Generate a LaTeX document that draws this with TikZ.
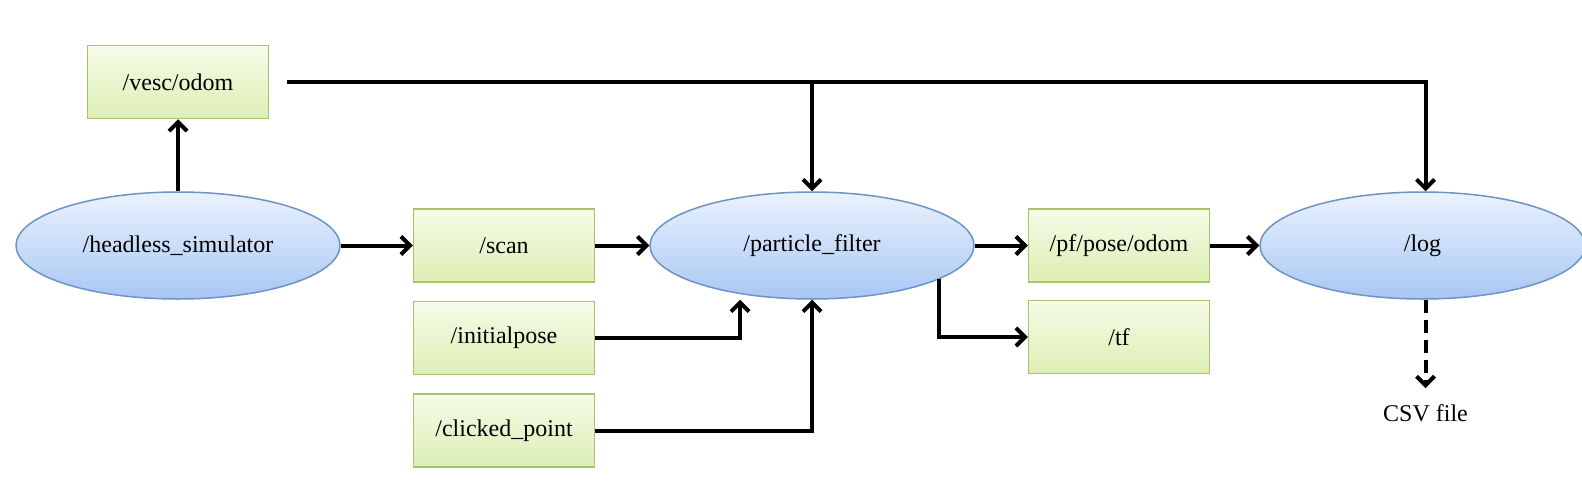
\documentclass[tikz,border=0pt]{standalone}
\usepackage{fontspec}
\setmainfont{Liberation Serif}
\usepackage{xcolor}
\usepackage{tikz}
\usetikzlibrary{arrows.meta,shapes.geometric,positioning,calc}

\definecolor{nodetop}{HTML}{EBF2FD}
\definecolor{nodebot}{HTML}{A8C7F4}
\definecolor{nodeline}{HTML}{6D93C6}
\definecolor{topictop}{HTML}{F6FBE8}
\definecolor{topicbot}{HTML}{DCEFB3}
\definecolor{topicline}{HTML}{A8C46A}

\tikzset{
  rosnode/.style={ellipse,draw=nodeline,line width=0.75pt,top color=nodetop,bottom color=nodebot,minimum width=162pt,minimum height=53.5pt,inner sep=0pt},
  topic/.style={rectangle,draw=topicline,line width=0.75pt,top color=topictop,bottom color=topicbot,minimum width=90.5pt,minimum height=36.5pt,inner sep=0pt},
  wire/.style={->,line width=2pt},
}

\begin{document}
\begin{tikzpicture}[font=\fontsize{12}{14}\selectfont,>={Straight Barb[length=4.5pt,width=9pt]}]
\useasboundingbox (0,0) rectangle (791pt,-249pt);
% Nodes
\node[rosnode] (sim) at (89pt,-122.75pt) {/headless\_simulator};
\node[topic,above=36pt of sim] (odom) {/vesc/odom};
\node[topic,right=36pt of sim] (scan) {/scan};
\node[topic,below=9pt of scan] (init) {/initialpose};
\node[topic,below=9pt of init] (click) {/clicked\_point};
\node[rosnode,right=27pt of scan] (pf) {/particle\_filter};
\node[topic,right=26.5pt of pf] (pose) {/pf/pose/odom};
\node[topic,below=8.5pt of pose] (tf) {/tf};
\node[rosnode,right=24.5pt of pose,minimum width=162.5pt] (log) {/log};
\node (csv) at ([xshift=1.5pt,yshift=-56.5pt]log.south) {CSV file};

% Arcs
\draw[wire] (sim) -- (odom);
\draw[wire] ([xshift=9pt]odom.east) -| ([xshift=1.5pt]log.north);
\draw[wire] (pf.north |- odom.east) -- (pf.north);
\draw[wire] (sim) -- (scan);
\draw[wire] (scan) -- (pf);
\draw[wire] (init.east) -| ([xshift=-36pt]pf.south);
\draw[wire] (click.east) -| (pf.south);
\draw[wire] (pf) -- (pose);
\draw[wire] (pf.345) |- (tf.west);
\draw[wire] (pose) -- (log);
\draw[wire,dash pattern=on 6.5pt off 3.5pt,shorten >=4.5pt] ([xshift=1.5pt]log.south) -- (csv.north);
\end{tikzpicture}
\end{document}
